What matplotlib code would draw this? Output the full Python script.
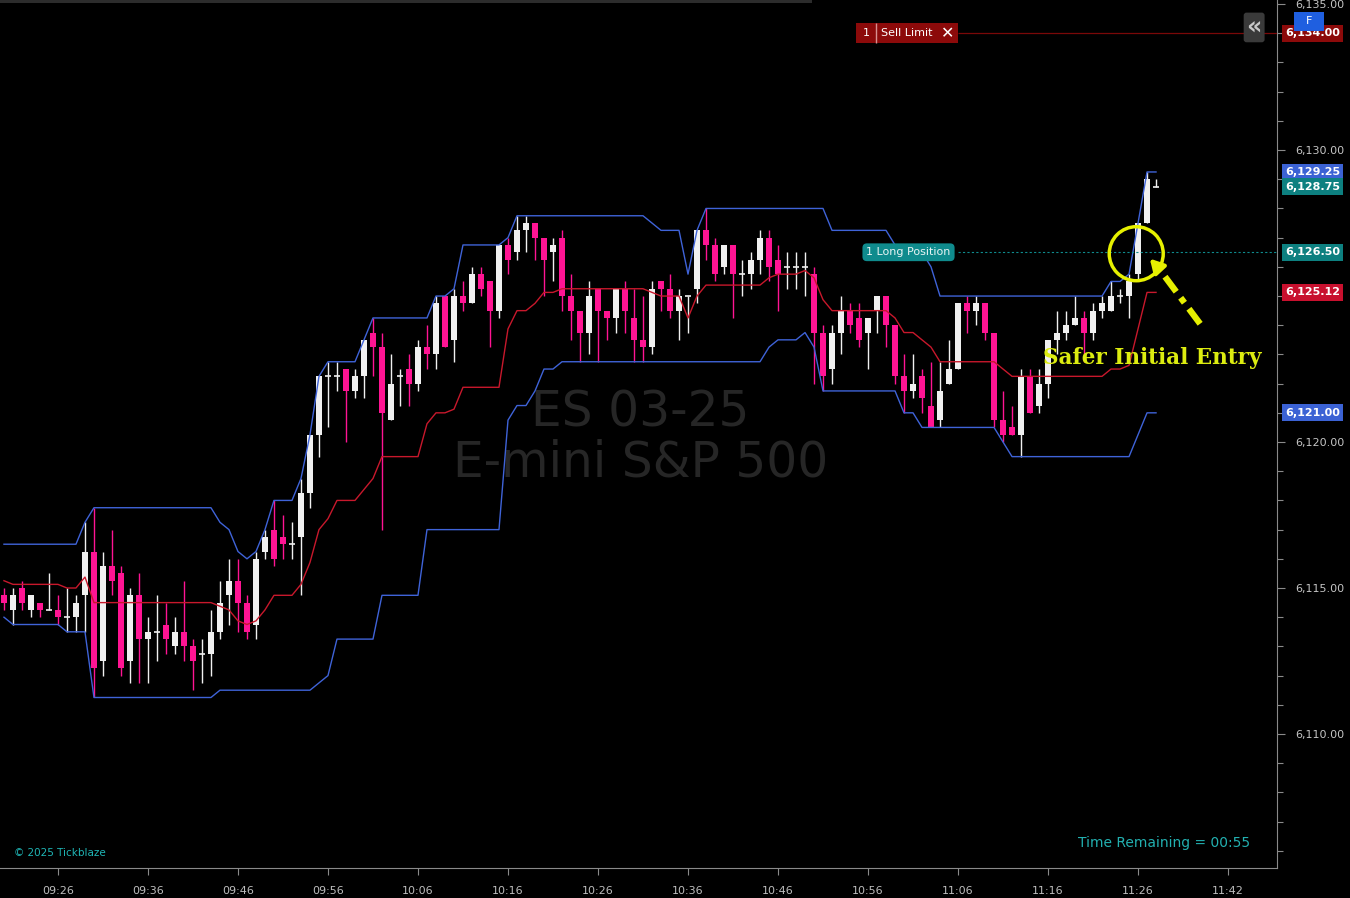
import numpy as np
import matplotlib
matplotlib.use("Agg")
import matplotlib.pyplot as plt
from matplotlib.patches import Ellipse, Rectangle

# 1-minute ES bars, 09:20 -> 11:28
opens = [6114.75, 6114.25, 6115.0, 6114.25, 6114.5, 6114.25, 6114.25, 6114.0, 6114.0, 6114.75,
         6116.25, 6112.5, 6115.75, 6115.5, 6112.5, 6114.75, 6113.25, 6113.5, 6113.75, 6113.0,
         6113.5, 6113.0, 6112.75, 6112.75, 6113.5, 6114.75, 6115.25, 6114.5, 6113.75, 6116.25,
         6117.0, 6116.75, 6116.5, 6116.75, 6118.25, 6120.25, 6122.25, 6122.25, 6122.5, 6121.75,
         6122.25, 6123.75, 6123.25, 6120.75, 6122.25, 6122.5, 6122.0, 6123.25, 6123.0, 6125.0,
         6123.5, 6125.0, 6124.75, 6125.75, 6125.5, 6124.5, 6126.75, 6126.5, 6127.25, 6127.5,
         6127.0, 6126.5, 6127.0, 6125.0, 6124.5, 6123.75, 6125.25, 6124.5, 6124.25, 6125.25,
         6124.25, 6123.5, 6123.25, 6125.5, 6125.25, 6124.5, 6125.0, 6125.25, 6127.25, 6126.75,
         6126.0, 6126.75, 6125.75, 6125.75, 6126.25, 6127.0, 6126.25, 6126.0, 6126.0, 6126.0,
         6125.75, 6123.75, 6122.5, 6123.75, 6124.5, 6124.25, 6123.75, 6124.5, 6125.0, 6124.0,
         6122.25, 6121.75, 6122.25, 6121.25, 6120.75, 6122.0, 6122.5, 6124.75, 6124.5, 6124.75,
         6123.75, 6120.75, 6120.5, 6120.25, 6122.25, 6121.25, 6122.0, 6123.5, 6123.75, 6124.0,
         6124.25, 6123.75, 6124.5, 6124.5, 6125.0, 6125.0, 6125.75, 6127.5, 6128.75]
highs = [6115.0, 6115.0, 6115.25, 6114.75, 6114.5, 6115.5, 6114.75, 6115.0, 6114.75, 6117.25,
         6117.75, 6116.25, 6117.0, 6115.75, 6115.0, 6115.5, 6114.0, 6114.75, 6114.5, 6114.0,
         6115.25, 6113.25, 6113.25, 6114.25, 6115.25, 6116.0, 6116.0, 6114.75, 6116.25, 6117.0,
         6118.0, 6117.5, 6117.25, 6118.75, 6120.25, 6122.25, 6122.75, 6122.75, 6122.5, 6122.5,
         6123.5, 6124.25, 6123.75, 6123.0, 6122.5, 6123.0, 6123.5, 6124.0, 6125.0, 6125.0,
         6125.25, 6125.5, 6126.0, 6126.0, 6125.5, 6126.75, 6127.0, 6127.75, 6127.75, 6127.5,
         6127.0, 6127.0, 6127.25, 6125.75, 6124.5, 6125.5, 6125.25, 6124.5, 6125.25, 6125.5,
         6125.25, 6125.0, 6125.5, 6125.5, 6125.75, 6125.25, 6125.0, 6127.25, 6128.0, 6127.0,
         6126.75, 6126.75, 6126.25, 6126.5, 6127.25, 6127.25, 6126.75, 6126.5, 6126.5, 6126.5,
         6126.0, 6124.0, 6124.0, 6125.0, 6124.75, 6124.75, 6124.25, 6125.0, 6125.0, 6124.0,
         6123.0, 6123.0, 6122.5, 6122.75, 6122.75, 6123.5, 6124.75, 6125.0, 6125.0, 6124.75,
         6123.75, 6121.75, 6121.25, 6122.5, 6122.5, 6122.5, 6123.5, 6124.5, 6124.5, 6125.0,
         6124.5, 6124.75, 6125.0, 6125.5, 6125.25, 6125.75, 6127.5, 6129.25, 6129.0]
lows = [6114.25, 6113.75, 6114.25, 6114.0, 6114.0, 6114.25, 6113.75, 6113.5, 6113.5, 6113.5,
        6111.25, 6112.0, 6114.75, 6112.0, 6111.75, 6111.75, 6111.75, 6112.5, 6112.75, 6112.75,
        6112.5, 6111.5, 6111.75, 6112.0, 6113.25, 6113.75, 6113.5, 6113.25, 6113.25, 6116.0,
        6115.75, 6116.0, 6116.0, 6114.75, 6117.75, 6119.5, 6120.5, 6121.75, 6120.0, 6121.5,
        6121.5, 6122.25, 6117.0, 6120.75, 6121.25, 6121.25, 6121.75, 6122.5, 6122.5, 6123.25,
        6122.75, 6124.5, 6124.75, 6125.0, 6123.25, 6124.25, 6125.75, 6126.25, 6126.5, 6126.25,
        6125.0, 6125.5, 6124.5, 6123.5, 6122.75, 6123.0, 6122.75, 6123.5, 6123.75, 6123.75,
        6122.75, 6122.75, 6123.0, 6124.5, 6124.25, 6123.5, 6123.75, 6124.75, 6126.25, 6125.5,
        6125.75, 6124.25, 6125.0, 6125.25, 6125.75, 6125.5, 6124.5, 6125.25, 6125.25, 6125.0,
        6122.0, 6121.75, 6122.0, 6123.0, 6123.75, 6123.25, 6122.5, 6123.75, 6123.25, 6122.0,
        6121.0, 6121.5, 6121.0, 6120.5, 6120.5, 6122.0, 6122.5, 6123.75, 6124.0, 6123.5,
        6120.5, 6120.0, 6120.25, 6119.5, 6121.0, 6121.0, 6121.5, 6123.0, 6123.5, 6124.0,
        6122.75, 6123.5, 6124.25, 6124.5, 6124.75, 6124.25, 6125.5, 6127.5, 6128.75]
closes = [6114.5, 6114.75, 6114.5, 6114.75, 6114.25, 6114.25, 6114.0, 6114.0, 6114.5, 6116.25,
          6112.25, 6115.75, 6115.25, 6112.25, 6114.75, 6113.25, 6113.5, 6113.5, 6113.25, 6113.5,
          6113.0, 6112.5, 6112.75, 6113.5, 6114.5, 6115.25, 6114.5, 6113.5, 6116.0, 6116.75,
          6116.0, 6116.5, 6116.5, 6118.25, 6120.25, 6122.25, 6122.25, 6122.25, 6121.75, 6122.25,
          6123.5, 6123.25, 6121.0, 6122.0, 6122.25, 6122.0, 6123.25, 6123.0, 6124.75, 6123.25,
          6125.0, 6124.75, 6125.75, 6125.25, 6124.5, 6126.75, 6126.25, 6127.25, 6127.5, 6127.0,
          6126.25, 6126.75, 6125.0, 6124.5, 6123.75, 6125.0, 6124.5, 6124.25, 6125.25, 6124.5,
          6123.5, 6123.25, 6125.25, 6125.25, 6124.5, 6125.0, 6125.0, 6127.25, 6126.75, 6125.75,
          6126.75, 6125.75, 6125.75, 6126.25, 6127.0, 6126.0, 6125.75, 6126.0, 6126.0, 6126.0,
          6123.75, 6122.25, 6123.75, 6124.5, 6124.0, 6123.5, 6124.25, 6125.0, 6124.0, 6122.25,
          6121.75, 6122.0, 6121.5, 6120.5, 6121.75, 6122.5, 6124.75, 6124.5, 6124.75, 6123.75,
          6120.75, 6120.25, 6120.25, 6122.25, 6121.0, 6122.0, 6123.5, 6123.75, 6124.0, 6124.25,
          6123.75, 6124.5, 6124.75, 6125.0, 6125.0, 6125.5, 6127.5, 6129.0, 6128.75]

# channel lines as drawn on the chart
upper = [6116.5, 6116.5, 6116.5, 6116.5, 6116.5, 6116.5, 6116.5, 6116.5, 6116.5, 6117.25,
         6117.75, 6117.75, 6117.75, 6117.75, 6117.75, 6117.75, 6117.75, 6117.75, 6117.75, 6117.75,
         6117.75, 6117.75, 6117.75, 6117.75, 6117.25, 6117.0, 6116.25, 6116.0, 6116.25, 6117.0,
         6118.0, 6118.0, 6118.0, 6118.75, 6120.25, 6122.25, 6122.75, 6122.75, 6122.75, 6122.75,
         6123.5, 6124.25, 6124.25, 6124.25, 6124.25, 6124.25, 6124.25, 6124.25, 6125.0, 6125.0,
         6125.25, 6126.75, 6126.75, 6126.75, 6126.75, 6126.75, 6127.0, 6127.75, 6127.75, 6127.75,
         6127.75, 6127.75, 6127.75, 6127.75, 6127.75, 6127.75, 6127.75, 6127.75, 6127.75, 6127.75,
         6127.75, 6127.75, 6127.5, 6127.25, 6127.25, 6127.25, 6125.75, 6127.25, 6128.0, 6128.0,
         6128.0, 6128.0, 6128.0, 6128.0, 6128.0, 6128.0, 6128.0, 6128.0, 6128.0, 6128.0,
         6128.0, 6128.0, 6127.25, 6127.25, 6127.25, 6127.25, 6127.25, 6127.25, 6127.25, 6126.75,
         6126.5, 6126.5, 6126.5, 6126.0, 6125.0, 6125.0, 6125.0, 6125.0, 6125.0, 6125.0,
         6125.0, 6125.0, 6125.0, 6125.0, 6125.0, 6125.0, 6125.0, 6125.0, 6125.0, 6125.0,
         6125.0, 6125.0, 6125.0, 6125.5, 6125.5, 6125.75, 6127.5, 6129.25, 6129.25]
lower = [6114.0, 6113.75, 6113.75, 6113.75, 6113.75, 6113.75, 6113.75, 6113.5, 6113.5, 6113.5,
         6111.25, 6111.25, 6111.25, 6111.25, 6111.25, 6111.25, 6111.25, 6111.25, 6111.25, 6111.25,
         6111.25, 6111.25, 6111.25, 6111.25, 6111.5, 6111.5, 6111.5, 6111.5, 6111.5, 6111.5,
         6111.5, 6111.5, 6111.5, 6111.5, 6111.5, 6111.75, 6112.0, 6113.25, 6113.25, 6113.25,
         6113.25, 6113.25, 6114.75, 6114.75, 6114.75, 6114.75, 6114.75, 6117.0, 6117.0, 6117.0,
         6117.0, 6117.0, 6117.0, 6117.0, 6117.0, 6117.0, 6120.75, 6121.25, 6121.25, 6121.75,
         6122.5, 6122.5, 6122.75, 6122.75, 6122.75, 6122.75, 6122.75, 6122.75, 6122.75, 6122.75,
         6122.75, 6122.75, 6122.75, 6122.75, 6122.75, 6122.75, 6122.75, 6122.75, 6122.75, 6122.75,
         6122.75, 6122.75, 6122.75, 6122.75, 6122.75, 6123.25, 6123.5, 6123.5, 6123.5, 6123.75,
         6123.25, 6121.75, 6121.75, 6121.75, 6121.75, 6121.75, 6121.75, 6121.75, 6121.75, 6121.75,
         6121.0, 6121.0, 6120.5, 6120.5, 6120.5, 6120.5, 6120.5, 6120.5, 6120.5, 6120.5,
         6120.5, 6120.0, 6119.5, 6119.5, 6119.5, 6119.5, 6119.5, 6119.5, 6119.5, 6119.5,
         6119.5, 6119.5, 6119.5, 6119.5, 6119.5, 6119.5, 6120.25, 6121.0, 6121.0]
middle = [6115.25, 6115.125, 6115.125, 6115.125, 6115.125, 6115.125, 6115.125, 6115.0, 6115.0, 6115.375,
          6114.5, 6114.5, 6114.5, 6114.5, 6114.5, 6114.5, 6114.5, 6114.5, 6114.5, 6114.5,
          6114.5, 6114.5, 6114.5, 6114.5, 6114.375, 6114.25, 6113.875, 6113.75, 6113.875, 6114.25,
          6114.75, 6114.75, 6114.75, 6115.125, 6115.875, 6117.0, 6117.375, 6118.0, 6118.0, 6118.0,
          6118.375, 6118.75, 6119.5, 6119.5, 6119.5, 6119.5, 6119.5, 6120.625, 6121.0, 6121.0,
          6121.125, 6121.875, 6121.875, 6121.875, 6121.875, 6121.875, 6123.875, 6124.5, 6124.5, 6124.75,
          6125.125, 6125.125, 6125.25, 6125.25, 6125.25, 6125.25, 6125.25, 6125.25, 6125.25, 6125.25,
          6125.25, 6125.25, 6125.125, 6125.0, 6125.0, 6125.0, 6124.25, 6125.0, 6125.375, 6125.375,
          6125.375, 6125.375, 6125.375, 6125.375, 6125.375, 6125.625, 6125.75, 6125.75, 6125.75, 6125.875,
          6125.625, 6124.875, 6124.5, 6124.5, 6124.5, 6124.5, 6124.5, 6124.5, 6124.5, 6124.25,
          6123.75, 6123.75, 6123.5, 6123.25, 6122.75, 6122.75, 6122.75, 6122.75, 6122.75, 6122.75,
          6122.75, 6122.5, 6122.25, 6122.25, 6122.25, 6122.25, 6122.25, 6122.25, 6122.25, 6122.25,
          6122.25, 6122.25, 6122.25, 6122.5, 6122.5, 6122.625, 6123.875, 6125.125, 6125.125]

time_labels = ["09:26", "09:36", "09:46", "09:56", "10:06", "10:16", "10:26",
               "10:36", "10:46", "10:56", "11:06", "11:16", "11:26", "11:42"]
price_ticks = [6110, 6115, 6120, 6125, 6130, 6135]

sell_limit = 6134.00
long_entry = 6126.50
price_tags = [(6134.00, "6,134.00", "#8c0a0a"), (6129.25, "6,129.25", "#3b62d4"),
              (6128.75, "6,128.75", "#0d8080"), (6126.50, "6,126.50", "#0d8080"),
              (6125.125, "6,125.12", "#c8102e"), (6121.00, "6,121.00", "#3b62d4")]

o = np.array(opens); h = np.array(highs); l = np.array(lows); c = np.array(closes)
x = np.arange(len(o))

fig = plt.figure(figsize=(13.5, 8.98), dpi=100, facecolor="black")
ax = fig.add_axes([0, 30 / 898, 1277 / 1350, 868 / 898], facecolor="black")
ax.set_xlim(-0.44, 141.44)
ax.set_ylim(6105.41, 6135.14)

# watermark
ax.text(70.7, 6121.0, "ES 03-25", color="#262626", fontsize=35, ha="center", va="center", zorder=0)
ax.text(70.7, 6119.3, "E-mini S&P 500", color="#262626", fontsize=35, ha="center", va="center", zorder=0)

# candles
up = c >= o
cols = np.where(up, "#f0f0f0", "#ff1493")
ax.vlines(x, l, h, colors=cols, lw=1, zorder=2)
body = np.abs(c - o) > 0
ax.bar(x[body], np.abs(c - o)[body], bottom=np.minimum(o, c)[body], width=0.66,
       color=list(cols[body]), edgecolor="none", zorder=2)
ax.hlines(o[~body], x[~body] - 0.33, x[~body] + 0.33, colors=list(cols[~body]), lw=1.2, zorder=2)

# channel
ax.plot(x, upper, color="#3f63d8", lw=1, zorder=3)
ax.plot(x, lower, color="#3f63d8", lw=1, zorder=3)
ax.plot(x, middle, color="#c8182c", lw=1, zorder=3)

# orders / position
ax.hlines(sell_limit, 106, 141.44, color="#7a0808", lw=0.9, zorder=3)
ax.add_patch(Rectangle((94.7, sell_limit - 0.34), 11.3, 0.68, fc="#8c0a0a", ec="none", zorder=4))
ax.vlines(96.9, sell_limit - 0.34, sell_limit + 0.34, color="#d89090", lw=1, zorder=5)
ax.text(95.8, sell_limit, "1", color="white", fontsize=8, ha="center", va="center", zorder=5)
ax.text(97.4, sell_limit, "Sell Limit", color="white", fontsize=8, ha="left", va="center", zorder=5)
ax.text(104.9, sell_limit, "\u2715", color="white", fontsize=11.5, fontweight="bold", ha="center",
        va="center", zorder=5)

ax.hlines(long_entry, 106, 141.44, color="#0f8b8d", lw=0.8, linestyle=(0, (2, 2)), zorder=3)
ax.text(100.5, long_entry, "1 Long Position", color="#e8f4f4", fontsize=8, ha="center", va="center", zorder=5,
        bbox=dict(boxstyle="round,pad=0.35,rounding_size=0.4", fc="#0f8b8d", ec="none"))

# collapse button
ax.text(138.9, 6134.2, "\u00ab", color="#c8c8c8", fontsize=17, fontweight="bold", ha="center", va="center",
        zorder=5, bbox=dict(boxstyle="round,pad=0.12", fc="#3a3a3a", ec="none"))

# annotation
ax.add_patch(Ellipse((125.8, 6126.45), 6.0, 1.85, fill=False, ec="#e6f000", lw=2.5, zorder=6))
ax.plot([132.9, 128.3], [6124.05, 6125.95], color="#e6f000", lw=4.5, linestyle=(0, (3, 1.2, 1, 1.2)),
        solid_capstyle="butt", zorder=6)
ax.annotate("", xy=(127.1, 6126.35), xytext=(128.6, 6125.85),
            arrowprops=dict(arrowstyle="-|>,head_length=0.8,head_width=0.45", color="#e6f000", lw=3), zorder=6)
ax.text(127.6, 6122.88, "Safer Initial Entry", color="#dcec10", fontsize=15.5, fontweight="bold",
        family="DejaVu Serif", ha="center", va="center", zorder=6)

# axes styling
for s in ["left", "top"]:
    ax.spines[s].set_visible(False)
for s in ["right", "bottom"]:
    ax.spines[s].set_color("#8a8a8a")
    ax.spines[s].set_linewidth(0.8)

ax.yaxis.tick_right()
ax.set_yticks(price_ticks)
# 6,125.00 sits under the 6,125.12 tag in the original
ax.set_yticklabels([f"{p:,.2f}" if p != 6125 else "" for p in price_ticks])
ax.set_yticks(np.arange(6106, 6136), minor=True)
ax.tick_params(axis="y", which="major", colors="#8a8a8a", labelcolor="#c4c4c4", length=6, width=0.8,
               labelsize=8, pad=7)
ax.tick_params(axis="y", which="minor", colors="#8a8a8a", length=4, width=0.8)
ax.set_xticks([6, 16, 26, 36, 46, 56, 66, 76, 86, 96, 106, 116, 126, 136])
ax.set_xticklabels(time_labels)
ax.tick_params(axis="x", colors="#8a8a8a", labelcolor="#bdbdbd", length=5, width=0.8, labelsize=8, pad=8)

# price tags on the axis
ytr = ax.get_yaxis_transform()
for p, txt, col in price_tags:
    ax.text(1.0062, p, txt, transform=ytr, color="white", fontsize=8, fontweight="bold",
            ha="left", va="center", zorder=7, clip_on=False,
            bbox=dict(boxstyle="square,pad=0.3", fc=col, ec="none"))

fig.patches.append(Rectangle((1294 / 1350, 1 - 31 / 898), 30 / 1350, 19 / 898, transform=fig.transFigure,
                             fc="#1f5fe0", ec="none", zorder=8))
fig.text(1309 / 1350, 1 - 21 / 898, "F", color="white", fontsize=8, ha="center", va="center", zorder=9)

fig.patches.append(Rectangle((0, 1 - 3 / 898), 812 / 1350, 3 / 898, transform=fig.transFigure,
                             fc="#2c2c2c", ec="none"))

ax.text(14 / 1277, (868 - 853) / 868, "\u00a9 2025 Tickblaze", transform=ax.transAxes, color="#1fb5b5",
        fontsize=7.5, ha="left", va="center")
ax.text(1250 / 1277, (868 - 843) / 868, "Time Remaining = 00:55", transform=ax.transAxes, color="#22b0b0",
        fontsize=10, ha="right", va="center")

fig.savefig("out.png", dpi=100, facecolor="black")
